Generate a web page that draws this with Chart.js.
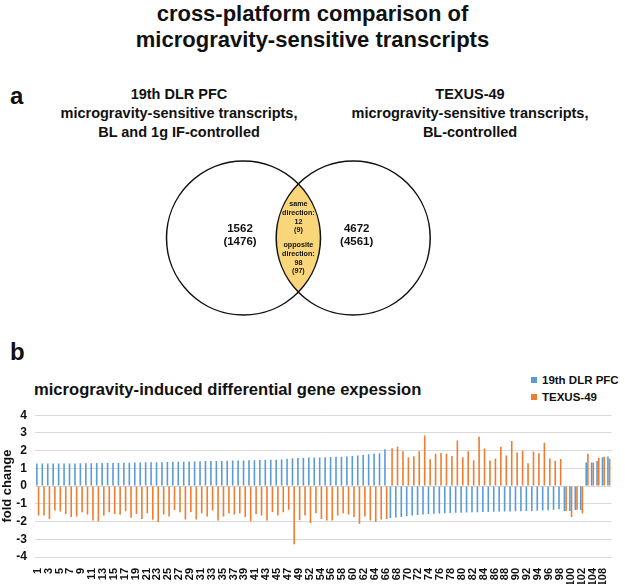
<!DOCTYPE html>
<html>
<head>
<meta charset="utf-8">
<title>cross-platform comparison of microgravity-sensitive transcripts</title>
<script src="https://cdn.jsdelivr.net/npm/chart.js@4.4.1/dist/chart.umd.min.js"></script>
<style>
  html, body { margin: 0; padding: 0; background: #fff; }
  body { width: 625px; height: 584px; position: relative; overflow: hidden;
         font-family: 'Liberation Sans', Arial, sans-serif; font-weight: bold; color: #111; }
  .abs { position: absolute; white-space: nowrap; }
  .center { text-align: center; }
  canvas { position: absolute; left: 0; }
</style>
</head>
<body>
  <!-- headings -->
  <div class="abs center" style="left:0;top:1px;width:625px;font-size:22px;line-height:25.5px;">
    cross-platform comparison of<br>microgravity-sensitive transcripts
  </div>
  <div class="abs" style="left:10px;top:83px;font-size:24px;line-height:26px;">a</div>
  <div class="abs center" style="left:29px;top:85px;width:300px;font-size:14.5px;line-height:19px;">
    19th DLR PFC<br>microgravity-sensitive transcripts,<br>BL and 1g IF-controlled
  </div>
  <div class="abs center" style="left:320px;top:85px;width:300px;font-size:14.5px;line-height:19px;">
    TEXUS-49<br>microgravity-sensitive transcripts,<br>BL-controlled
  </div>

  <!-- part a: venn -->
  <canvas id="vennChart" width="625" height="185" style="top:145px;"></canvas>
  <div id="leftCount" class="abs center" style="left:190px;top:221.5px;width:100px;font-size:11.5px;line-height:13px;"></div>
  <div id="rightCount" class="abs center" style="left:306.7px;top:221.5px;width:100px;font-size:11.5px;line-height:13px;"></div>
  <div id="sameCount" class="abs center" style="left:268.4px;top:200px;width:60px;font-size:7.2px;line-height:8.8px;"></div>
  <div id="oppCount" class="abs center" style="left:268.4px;top:241px;width:60px;font-size:7.2px;line-height:8.8px;"></div>

  <!-- part b: bars -->
  <div class="abs" style="left:10px;top:339px;font-size:24px;line-height:26px;">b</div>
  <div class="abs" style="left:34px;top:380px;font-size:16.6px;line-height:20px;">microgravity-induced differential gene expession</div>
  <div id="legend" class="abs" style="left:531px;top:372px;font-size:11.5px;line-height:17px;"></div>
  <canvas id="foldChart" width="625" height="184" style="top:400px;"></canvas>

<script>
// ---- venn counts: [all, in brackets] ----
const dlrOnly = [1562, 1476];
const texusOnly = [4672, 4561];
const sameDirection = [12, 9];
const oppositeDirection = [98, 97];

// ---- bar chart data ----
const geneLabels = [
  '1','2','3','4','5','6','7','8','9','10','11','12','13','14','15','16','17','18','19','20',
  '21','22','23','24','25','26','27','28','29','30','31','32','33','34','35','36','37','38','39','40',
  '41','42','43','44','45','46','47','48','49','50','52','53','54','55','56','57','58','59','60','61',
  '62','63','64','65','66','67','68','69','70','71','72','73','74','75','76','77','78','79','80','81',
  '82','83','84','85','86','87','88','89','90','91','92','93','94','95','96','97','98','99','100','101',
  '102','103','104','106','108','110'
];

const dlrFold = [
  1.27, 1.27, 1.27, 1.27, 1.28, 1.28, 1.28, 1.28, 1.29, 1.29,
  1.29, 1.30, 1.30, 1.30, 1.31, 1.31, 1.32, 1.32, 1.33, 1.33,
  1.34, 1.34, 1.35, 1.35, 1.36, 1.37, 1.37, 1.38, 1.39, 1.39,
  1.40, 1.41, 1.41, 1.42, 1.42, 1.43, 1.44, 1.44, 1.45, 1.46,
  1.46, 1.47, 1.48, 1.48, 1.49, 1.50, 1.55, 1.57, 1.58, 1.60,
  1.61, 1.62, 1.62, 1.63, 1.64, 1.65, 1.66, 1.67, 1.70, 1.72,
  1.76, 1.80, 1.83, 1.86, 2.08,
  -1.80, -1.77, -1.74, -1.70, -1.66, -1.63, -1.60, -1.58, -1.56, -1.55,
  -1.53, -1.52, -1.51, -1.50, -1.49, -1.48, -1.47, -1.46, -1.46, -1.45,
  -1.44, -1.44, -1.43, -1.42, -1.42, -1.41, -1.40, -1.39, -1.38, -1.36,
  -1.33, -1.30,
  -1.42, -1.40, -1.35, -1.35,
  1.33, 1.33, 1.42, 1.63, 1.67
];

const texusFold = [
  -1.66, -1.66, -1.85, -1.38, -1.44, -1.57, -1.75, -1.72, -1.48, -1.60,
  -1.94, -1.99, -1.66, -1.48, -1.57, -1.62, -1.42, -1.79, -1.57, -1.85,
  -1.53, -1.90, -2.03, -1.60, -1.72, -1.35, -1.48, -1.88, -1.48, -1.88,
  -1.53, -1.72, -1.38, -1.94, -1.72, -1.53, -1.60, -1.53, -1.75, -1.99,
  -1.57, -1.66, -1.94, -1.48, -1.66, -1.48, -1.33, -3.28, -1.92, -1.66,
  -2.08, -1.53, -1.85, -1.94, -1.94, -1.66, -1.53, -1.60, -1.75, -2.12,
  -1.72, -1.94, -2.03, -1.88, -1.85,
  2.13, 2.22, 1.97, 1.62, 1.68, 1.96, 2.85, 1.52, 1.82, 1.87,
  1.82, 1.70, 2.57, 1.63, 1.97, 1.46, 2.79, 2.12, 1.45, 1.56,
  2.22, 1.72, 2.55, 1.90, 2.00, 1.29, 1.95, 1.85, 2.45, 1.56,
  1.43, 1.53,
  -1.40, -1.75, -1.33, -1.55,
  1.82, 1.33, 1.60, 1.65, 1.55
];

const yTicks = [-4, -3, -2, -1, 0, 1, 2, 3, 4];
const seriesNames = ['19th DLR PFC', 'TEXUS-49'];
const seriesColors = ['#5b9bd5', '#ed7d31'];

Chart.defaults.font.family = "'Liberation Sans', Arial, sans-serif";
Chart.defaults.color = '#111';
Chart.defaults.animation = false;

// ---- venn texts ----
document.getElementById('leftCount').innerHTML = dlrOnly[0] + '<br>(' + dlrOnly[1] + ')';
document.getElementById('rightCount').innerHTML = texusOnly[0] + '<br>(' + texusOnly[1] + ')';
document.getElementById('sameCount').innerHTML =
  'same<br>direction:<br>' + sameDirection[0] + '<br>(' + sameDirection[1] + ')';
document.getElementById('oppCount').innerHTML =
  'opposite<br>direction:<br>' + oppositeDirection[0] + '<br>(' + oppositeDirection[1] + ')';

// ---- venn chart: two circles as scatter points, lens filled by plugin ----
const vennRadius = 77;
const vennCenters = [{ x: 243.5, y: 93 }, { x: 353.2, y: 93 }];

const lensFill = {
  id: 'lensFill',
  beforeDatasetsDraw(chart) {
    const pts = chart.getDatasetMeta(0).data;
    const ctx = chart.ctx;
    ctx.save();
    ctx.beginPath();
    ctx.arc(pts[0].x, pts[0].y, vennRadius, 0, Math.PI * 2);
    ctx.clip();
    ctx.beginPath();
    ctx.arc(pts[1].x, pts[1].y, vennRadius, 0, Math.PI * 2);
    ctx.fillStyle = '#f9d67a';
    ctx.fill();
    ctx.restore();
  }
};

new Chart(document.getElementById('vennChart'), {
  type: 'scatter',
  data: {
    datasets: [{
      data: vennCenters,
      pointRadius: vennRadius,
      pointBackgroundColor: 'rgba(0,0,0,0)',
      pointBorderColor: '#111',
      pointBorderWidth: 1.5,
      clip: false
    }]
  },
  options: {
    responsive: false,
    events: [],
    layout: { padding: 0, autoPadding: false },
    plugins: { legend: { display: false }, tooltip: { enabled: false } },
    scales: {
      x: { type: 'linear', min: 0, max: 625, display: false },
      y: { type: 'linear', min: 0, max: 185, reverse: true, display: false }
    }
  },
  plugins: [lensFill]
});

// ---- legend (html) ----
document.getElementById('legend').innerHTML = seriesNames.map((name, i) =>
  '<div><span style="display:inline-block;width:6px;height:6px;margin-right:5px;vertical-align:1px;background:' +
  seriesColors[i] + '"></span>' + name + '</div>').join('');

// ---- fold change bar chart ----
new Chart(document.getElementById('foldChart'), {
  type: 'bar',
  data: {
    labels: geneLabels,
    datasets: [
      { label: seriesNames[0], data: dlrFold, backgroundColor: seriesColors[0],
        categoryPercentage: 0.62, barPercentage: 0.95 },
      { label: seriesNames[1], data: texusFold, backgroundColor: seriesColors[1],
        categoryPercentage: 0.62, barPercentage: 0.95 }
    ]
  },
  options: {
    responsive: false,
    events: [],
    layout: { padding: { top: 13, right: 3, left: 0, bottom: 0 } },
    plugins: { legend: { display: false }, tooltip: { enabled: false } },
    scales: {
      x: {
        grid: { display: false },
        border: { display: false },
        ticks: {
          autoSkip: false,
          minRotation: 90,
          maxRotation: 90,
          padding: 3,
          font: { size: 11, weight: 'bold' },
          color: '#111',
          callback: function(value, index) {
            return index % 2 === 0 ? geneLabels[index] : '';
          }
        },
        afterFit: function(scale) { scale.height = 27; }
      },
      y: {
        min: yTicks[0],
        max: yTicks[yTicks.length - 1],
        afterBuildTicks: function(scale) { scale.ticks = yTicks.map(v => ({ value: v })); },
        grid: { color: '#d9d9d9', drawTicks: false, lineWidth: 1 },
        border: { display: false },
        ticks: { padding: 8, font: { size: 12, weight: 'bold' }, color: '#111' },
        title: { display: true, text: 'fold change', padding: 0,
                 font: { size: 13, weight: 'bold' }, color: '#111' },
        afterFit: function(scale) { scale.width = 35; }
      }
    }
  }
});
</script>
</body>
</html>
